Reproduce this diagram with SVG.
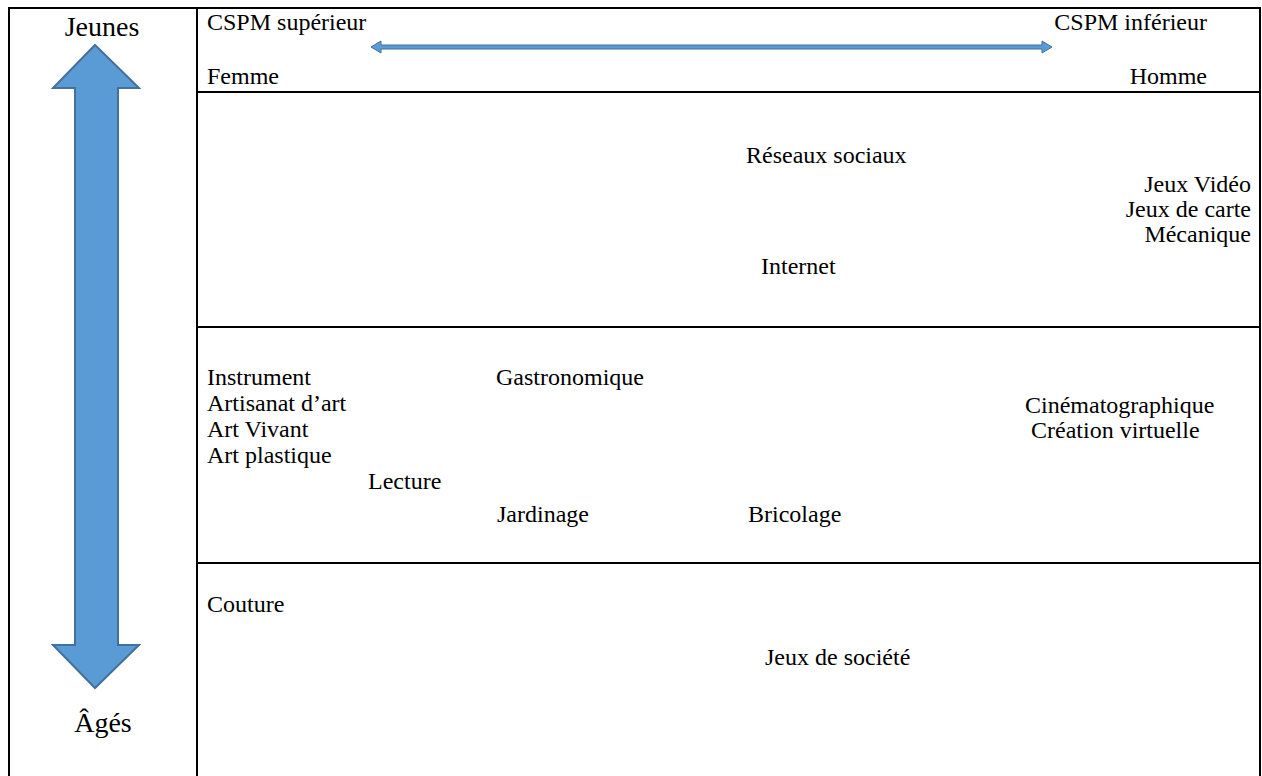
<svg xmlns="http://www.w3.org/2000/svg" width="1262" height="776" viewBox="0 0 1262 776">
<style>
.t{font-family:'Liberation Serif','Tinos','Times New Roman',serif;font-size:24px;fill:#000}
.big{font-size:28px}
.ln{stroke:#000;stroke-width:2;fill:none}
.arr{fill:#5B9BD5;stroke:#41719C}
</style>
<rect width="1262" height="776" fill="#fff"/>
<g id="grid">
<path class="ln" d="M9,790 V8 H1260 V790 M197,8 V790 M197,92 H1260 M197,327 H1260 M197,563 H1260"/>
</g>
<g id="connectors">
<polygon class="arr" stroke-width="2" points="95,45 139,88 118,88 118,645 139,645 95,688 53,645 75,645 75,88 53,88"/>
<polygon class="arr" stroke-width="1" points="371,47 381,41 381,45 1042,45 1042,41 1052,47 1042,53 1042,49 381,49 381,53"/>
</g>
<g id="axis-labels">
<text class="t big" x="102" y="36" text-anchor="middle">Jeunes</text>
<text class="t big" x="103" y="732" text-anchor="middle">Âgés</text>
<text class="t" x="207" y="30">CSPM supérieur</text>
<text class="t" x="1207" y="30" text-anchor="end">CSPM inférieur</text>
<text class="t" x="207" y="84">Femme</text>
<text class="t" x="1207" y="84" text-anchor="end">Homme</text>
</g>
<g id="row1">
<text class="t" x="746" y="163">Réseaux sociaux</text>
<text class="t" x="1251" y="192" text-anchor="end">Jeux Vidéo</text>
<text class="t" x="1251" y="217" text-anchor="end">Jeux de carte</text>
<text class="t" x="1251" y="242" text-anchor="end">Mécanique</text>
<text class="t" x="761" y="274">Internet</text>
</g>
<g id="row2">
<text class="t" x="207" y="385">Instrument</text>
<text class="t" x="207" y="411">Artisanat d’art</text>
<text class="t" x="207" y="437">Art Vivant</text>
<text class="t" x="207" y="463">Art plastique</text>
<text class="t" x="496" y="385">Gastronomique</text>
<text class="t" x="1025" y="413">Cinématographique</text>
<text class="t" x="1031" y="438">Création virtuelle</text>
<text class="t" x="368" y="489">Lecture</text>
<text class="t" x="497" y="522">Jardinage</text>
<text class="t" x="748" y="522">Bricolage</text>
</g>
<g id="row3">
<text class="t" x="207" y="612">Couture</text>
<text class="t" x="765" y="665">Jeux de société</text>
</g>
</svg>
